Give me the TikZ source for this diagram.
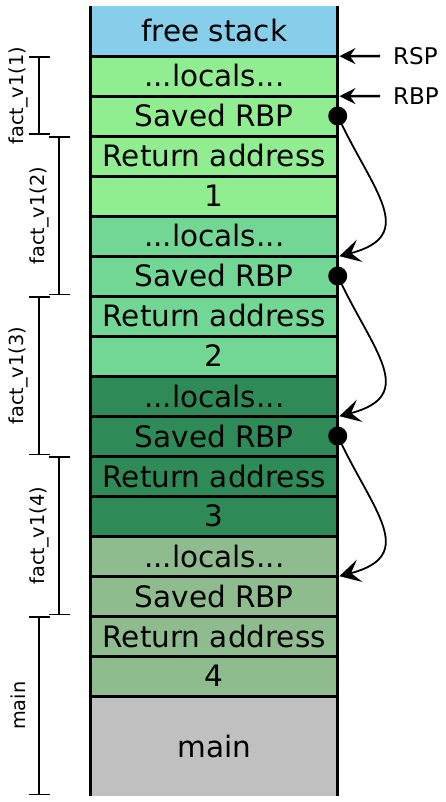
\documentclass[tikz,border=0pt]{standalone}
\usepackage{fontspec}
\setmainfont{DejaVu Sans}
\usetikzlibrary{arrows.meta,calc}
\definecolor{cfree}{HTML}{87CEEB}
\definecolor{cfa}{HTML}{90EE90}
\definecolor{cfb}{HTML}{72D794}
\definecolor{cfc}{HTML}{2E8B57}
\definecolor{cfd}{HTML}{8FBC8F}
\definecolor{cmain}{HTML}{C0C0C0}
\begin{document}
\begin{tikzpicture}[x=1pt,y=-1pt,
  stackcell/.style={rectangle, inner sep=0pt, minimum width=246.5pt, minimum height=40pt,
    font=\fontsize{29.5}{30}\selectfont, draw=none},
  divider/.style={line width=3.3pt},
  brk/.style={line width=1.8pt},
  lbl/.style={rotate=90, font=\fontsize{19.3}{20}\selectfont, inner sep=0pt},
  reg/.style={font=\fontsize{23}{24}\selectfont, inner sep=0pt, anchor=west},
  fplink/.style={line width=1.8pt, -{Stealth[length=21pt,width=23pt,inset=9pt]}},
  ptr/.style={line width=2.5pt, -{Stealth[length=16pt,width=16pt,inset=5.5pt]}},
  anchordot/.style={circle, fill=black, minimum size=19pt, inner sep=0pt}
]
\useasboundingbox (0,0) rectangle (446,802);

% stack cells
\node[stackcell, fill=cfree, minimum height=50pt] (free) at (214.25,31) {free stack};
\foreach \g/\c/\n in {0/cfa/1, 1/cfb/2, 2/cfc/3, 3/cfd/4} {
  \node[stackcell, fill=\c] (l\g) at (214.25,76+160*\g) {...locals...};
  \node[stackcell, fill=\c] (s\g) at (214.25,116+160*\g) {Saved RBP};
  \node[stackcell, fill=\c] (a\g) at (214.25,156+160*\g) {Return address};
  \node[stackcell, fill=\c] (n\g) at (214.25,196+160*\g) {\n};
}
\node[stackcell, fill=cmain, minimum height=100pt] (main) at (214.25,746) {main};

% dividers
\foreach \nm in {free,l0,s0,a0,n0,l1,s1,a1,n1,l2,s2,a2,n2,l3,s3,a3,n3}
  \draw[divider] (\nm.south west) -- (\nm.south east);
% column borders
\draw[divider] (free.north west) -- (main.south west);
\draw[divider] (free.north east) -- (main.south east);

% saved RBP links
\foreach \g/\h in {0/1, 1/2, 2/3} {
  \draw[fplink] (s\g.east) .. controls ($(s\g.east)+(35,75)$) and ($(l\h.south east)+(81.5,-21)$) .. ([xshift=1.7pt]l\h.south east);
  \node[anchordot] (d\g) at (s\g.east) {};
}

% RSP / RBP
\node[reg] (rsp) at (393,56) {RSP};
\node[reg] (rbp) at (393,96) {RBP};
\draw[ptr] ([xshift=-13pt]rsp.west) -- ([xshift=1.7pt]free.south east);
\draw[ptr] ([xshift=-13pt]rbp.west) -- ([xshift=1.7pt]l0.south east);

% frame brackets
\foreach \x/\t/\b in {39/56/136, 59/136/296, 39/296/456, 59/456/616, 39/616/796} {
  \draw[brk] (\x-10.5,\t+1.2) -- (\x+10.5,\t+1.2)
             (\x,\t+1.2) -- (\x,\b-1.6)
             (\x-10.5,\b-1.6) -- (\x+10.5,\b-1.6);
}
\node[lbl] (lb1) at (18,95.8) {fact\_v1(1)};
\node[lbl] (lb2) at (39,215.8) {fact\_v1(2)};
\node[lbl] (lb3) at (18,375.8) {fact\_v1(3)};
\node[lbl] (lb4) at (39,535.8) {fact\_v1(4)};
\node[lbl] (lbm) at (18,705.8) {main};
\end{tikzpicture}
\end{document}
